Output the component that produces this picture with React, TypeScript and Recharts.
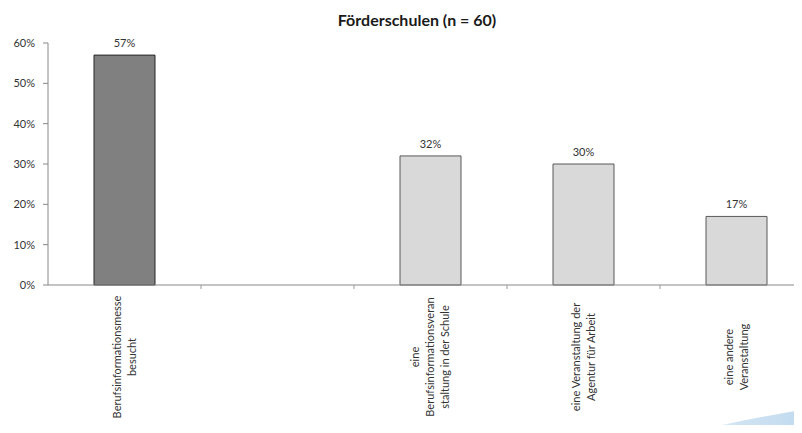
import { BarChart, Bar, XAxis, YAxis, Cell, LabelList } from 'recharts'

// Share of pupils per type of career-orientation event
const categories = [
  'Berufsinformationsmesse\nbesucht',
  '',
  'eine\nBerufsinformationsveran\nstaltung in der Schule',
  'eine Veranstaltung der\nAgentur für Arbeit',
  'eine andere\nVeranstaltung',
]
const shares: (number | null)[] = [57, null, 32, 30, 17]
const yTicks = [0, 10, 20, 30, 40, 50, 60]

const CHART_W = 820
const CHART_H = 433
const MARGIN = { top: 43, right: 7, left: 0, bottom: 0 }
const Y_AXIS_W = 48
const X_AXIS_H = 148
const PLOT_BOTTOM = CHART_H - MARGIN.bottom - X_AXIS_H
const SLOT = (CHART_W - MARGIN.left - MARGIN.right - Y_AXIS_W) / categories.length
const LABEL_CY = 357
const LINE_H = 15
const FONT = 'Lato, "Open Sans", sans-serif'

const data = categories.map((name, i) => ({ name, value: shares[i] }))

function CategoryTick(props: any) {
  const { x, payload, index } = props
  const lines = String(payload.value).split('\n').filter((l) => l.length > 0)
  const n = lines.length
  return (
    <g>
      {index > 0 && (
        <line x1={x - SLOT / 2} x2={x - SLOT / 2} y1={PLOT_BOTTOM} y2={PLOT_BOTTOM + 4} stroke="#999" />
      )}
      <g transform={`translate(${x},${LABEL_CY}) rotate(-90)`}>
        <text textAnchor="middle" fontSize={11} fill="#333" fontFamily={FONT}>
          {lines.map((l, i) => (
            <tspan key={i} x={0} y={(i - (n - 1) / 2) * LINE_H} dy="0.35em">
              {l}
            </tspan>
          ))}
        </text>
      </g>
    </g>
  )
}

export default function App() {
  return (
    <div
      style={{
        position: 'relative',
        width: 802,
        height: 433,
        margin: -8,
        overflow: 'hidden',
        background: '#fff',
        fontFamily: FONT,
      }}
    >
      <div
        style={{
          position: 'absolute',
          left: 417,
          top: 10,
          transform: 'translateX(-50%)',
          whiteSpace: 'nowrap',
          fontWeight: 700,
          fontSize: 16,
          lineHeight: '19px',
          color: '#1a1a1a',
        }}
      >
        Förderschulen (n = 60)
      </div>

      <BarChart width={CHART_W} height={CHART_H} data={data} margin={MARGIN}>
        <YAxis
          width={Y_AXIS_W}
          domain={[0, 60]}
          ticks={yTicks}
          interval={0}
          tickFormatter={(v: number) => `${v}%`}
          tick={{ fontSize: 11, fill: '#333', fontFamily: FONT }}
          tickSize={5}
          tickMargin={8}
          axisLine={{ stroke: '#888' }}
          tickLine={{ stroke: '#888' }}
        />
        <XAxis
          dataKey="name"
          height={X_AXIS_H}
          interval={0}
          tick={<CategoryTick />}
          tickLine={false}
          axisLine={{ stroke: '#888' }}
        />
        <Bar dataKey="value" barSize={61} isAnimationActive={false}>
          {data.map((_, i) => (
            <Cell
              key={i}
              fill={i === 0 ? '#808080' : '#d9d9d9'}
              stroke={i === 0 ? '#262626' : '#595959'}
              strokeWidth={1}
            />
          ))}
          <LabelList
            dataKey="value"
            position="top"
            offset={8}
            formatter={(v: any) => (v == null ? '' : `${v}%`)}
            style={{ fontSize: 11, fill: '#333', fontFamily: FONT }}
          />
        </Bar>
      </BarChart>

      {/* decorative swoosh in the lower right corner */}
      <svg
        width={802}
        height={433}
        style={{ position: 'absolute', left: 0, top: 0, pointerEvents: 'none' }}
      >
        <defs>
          <linearGradient id="swoosh" x1="0" y1="0" x2="1" y2="0">
            <stop offset="0" stopColor="#e3eef8" stopOpacity={0.4} />
            <stop offset="0.45" stopColor="#d0e3f3" />
            <stop offset="1" stopColor="#c2dbef" />
          </linearGradient>
        </defs>
        <path d="M682 433 C 728 424, 768 415, 802 410 L 802 433 Z" fill="url(#swoosh)" />
      </svg>
    </div>
  )
}
